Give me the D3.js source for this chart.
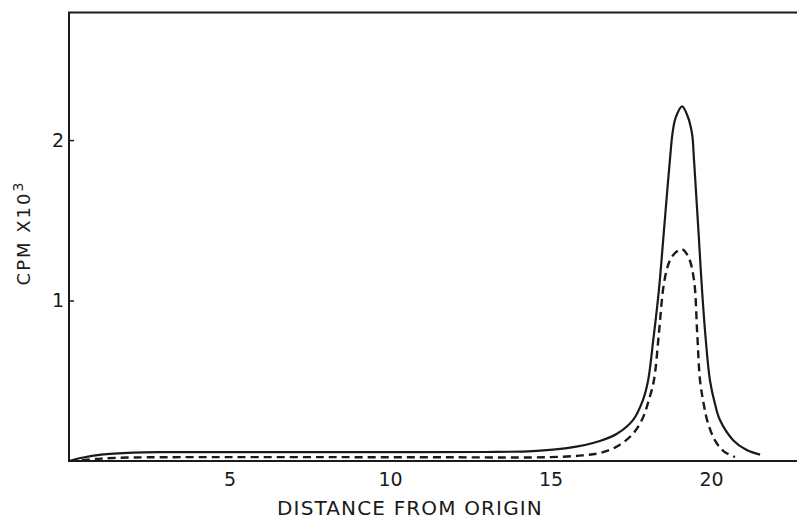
<!DOCTYPE html>
<html>
<head>
<meta charset="utf-8">
<script src="https://cdn.jsdelivr.net/npm/d3@7"></script>
<style>
  html, body { margin: 0; padding: 0; background: #fff; }
  svg { display: block; }
  text { font-family: "DejaVu Sans", sans-serif; fill: #1a1a1a; }
</style>
</head>
<body>
<svg id="chart" width="797" height="521"></svg>
<script>
// Distance from origin and counts (CPM x 10^3)
const solidX = [0, 0.4, 1, 2, 3, 5, 8, 11, 13, 14.45, 15.51, 16.54, 17.07, 17.57, 17.88, 18.04, 18.2, 18.38, 18.52, 18.64, 18.74, 18.8, 18.9, 19.1, 19.27, 19.41, 19.47, 19.53, 19.62, 19.72, 19.84, 19.97, 20.12, 20.28, 20.69, 21.1, 21.53];
const solidY = [0, 0.02, 0.04, 0.052, 0.055, 0.055, 0.055, 0.055, 0.056, 0.062, 0.08, 0.125, 0.17, 0.255, 0.38, 0.5, 0.75, 1.07, 1.4, 1.69, 1.92, 2.04, 2.14, 2.21, 2.15, 2.04, 1.88, 1.69, 1.4, 1.07, 0.75, 0.5, 0.36, 0.255, 0.13, 0.07, 0.04];

const dashX = [0.4, 1, 2, 4, 8, 12, 15, 16, 16.54, 17.07, 17.57, 17.88, 18.05, 18.22, 18.38, 18.53, 18.7, 18.9, 19.1, 19.3, 19.47, 19.57, 19.66, 19.77, 19.88, 20.12, 20.4, 20.75];
const dashY = [0.005, 0.015, 0.022, 0.024, 0.024, 0.023, 0.024, 0.035, 0.05, 0.09, 0.17, 0.27, 0.37, 0.5, 0.8, 1.1, 1.24, 1.3, 1.32, 1.27, 1.13, 0.8, 0.5, 0.36, 0.255, 0.13, 0.06, 0.025];

const yTicks = [1, 2];
const xTicks = [5, 10, 15, 20];

const svg = d3.select("#chart");
const m = { left: 69, right: 797, top: 12.5, bottom: 461 };

const x = d3.scaleLinear().domain([0, 22.68]).range([m.left, m.right]);
const y = d3.scaleLinear().domain([0, 2.795]).range([m.bottom, m.top]);

const ink = "#1a1a1a";

// frame: left, top and bottom lines
svg.append("path")
  .attr("d", `M${m.right},${m.top}H${m.left}V${m.bottom}H${m.right}`)
  .attr("fill", "none").attr("stroke", ink).attr("stroke-width", 2);

// y axis ticks point inward
const yAxis = d3.axisLeft(y).tickValues(yTicks).tickSize(-5).tickPadding(5).tickFormat(d3.format("d"));
const gy = svg.append("g").attr("transform", `translate(${m.left},0)`).call(yAxis);
gy.select(".domain").remove();
gy.selectAll(".tick line").attr("stroke", ink).attr("stroke-width", 1.5);
gy.selectAll(".tick text").attr("font-size", 19).attr("fill", ink).attr("font-family", "DejaVu Sans");

// x axis labels only
const xAxis = d3.axisBottom(x).tickValues(xTicks).tickSize(0).tickPadding(12).tickFormat(d3.format("d"));
const gx = svg.append("g").attr("transform", `translate(0,${m.bottom})`).call(xAxis);
gx.select(".domain").remove();
gx.selectAll(".tick text").attr("font-size", 19).attr("fill", ink).attr("font-family", "DejaVu Sans");

// axis titles
svg.append("text")
  .attr("x", 410).attr("y", 515)
  .attr("text-anchor", "middle")
  .attr("font-size", 20)
  .attr("letter-spacing", 1.15)
  .text("DISTANCE FROM ORIGIN");

const yt = svg.append("text")
  .attr("transform", "translate(30,233) rotate(-90)")
  .attr("text-anchor", "middle")
  .attr("font-size", 18)
  .attr("letter-spacing", 2);
yt.append("tspan").text("CPM X10");
yt.append("tspan").attr("dy", -7).attr("font-size", 14).text("3");

const line = d3.line().x(d => x(d[0])).y(d => y(d[1])).curve(d3.curveCatmullRom.alpha(0.5));

svg.append("path")
  .datum(d3.zip(solidX, solidY))
  .attr("d", line)
  .attr("fill", "none").attr("stroke", ink).attr("stroke-width", 2.2);

svg.append("path")
  .datum(d3.zip(dashX, dashY))
  .attr("d", line)
  .attr("fill", "none").attr("stroke", ink).attr("stroke-width", 2.4)
  .attr("stroke-dasharray", "8,5");
</script>
</body>
</html>
